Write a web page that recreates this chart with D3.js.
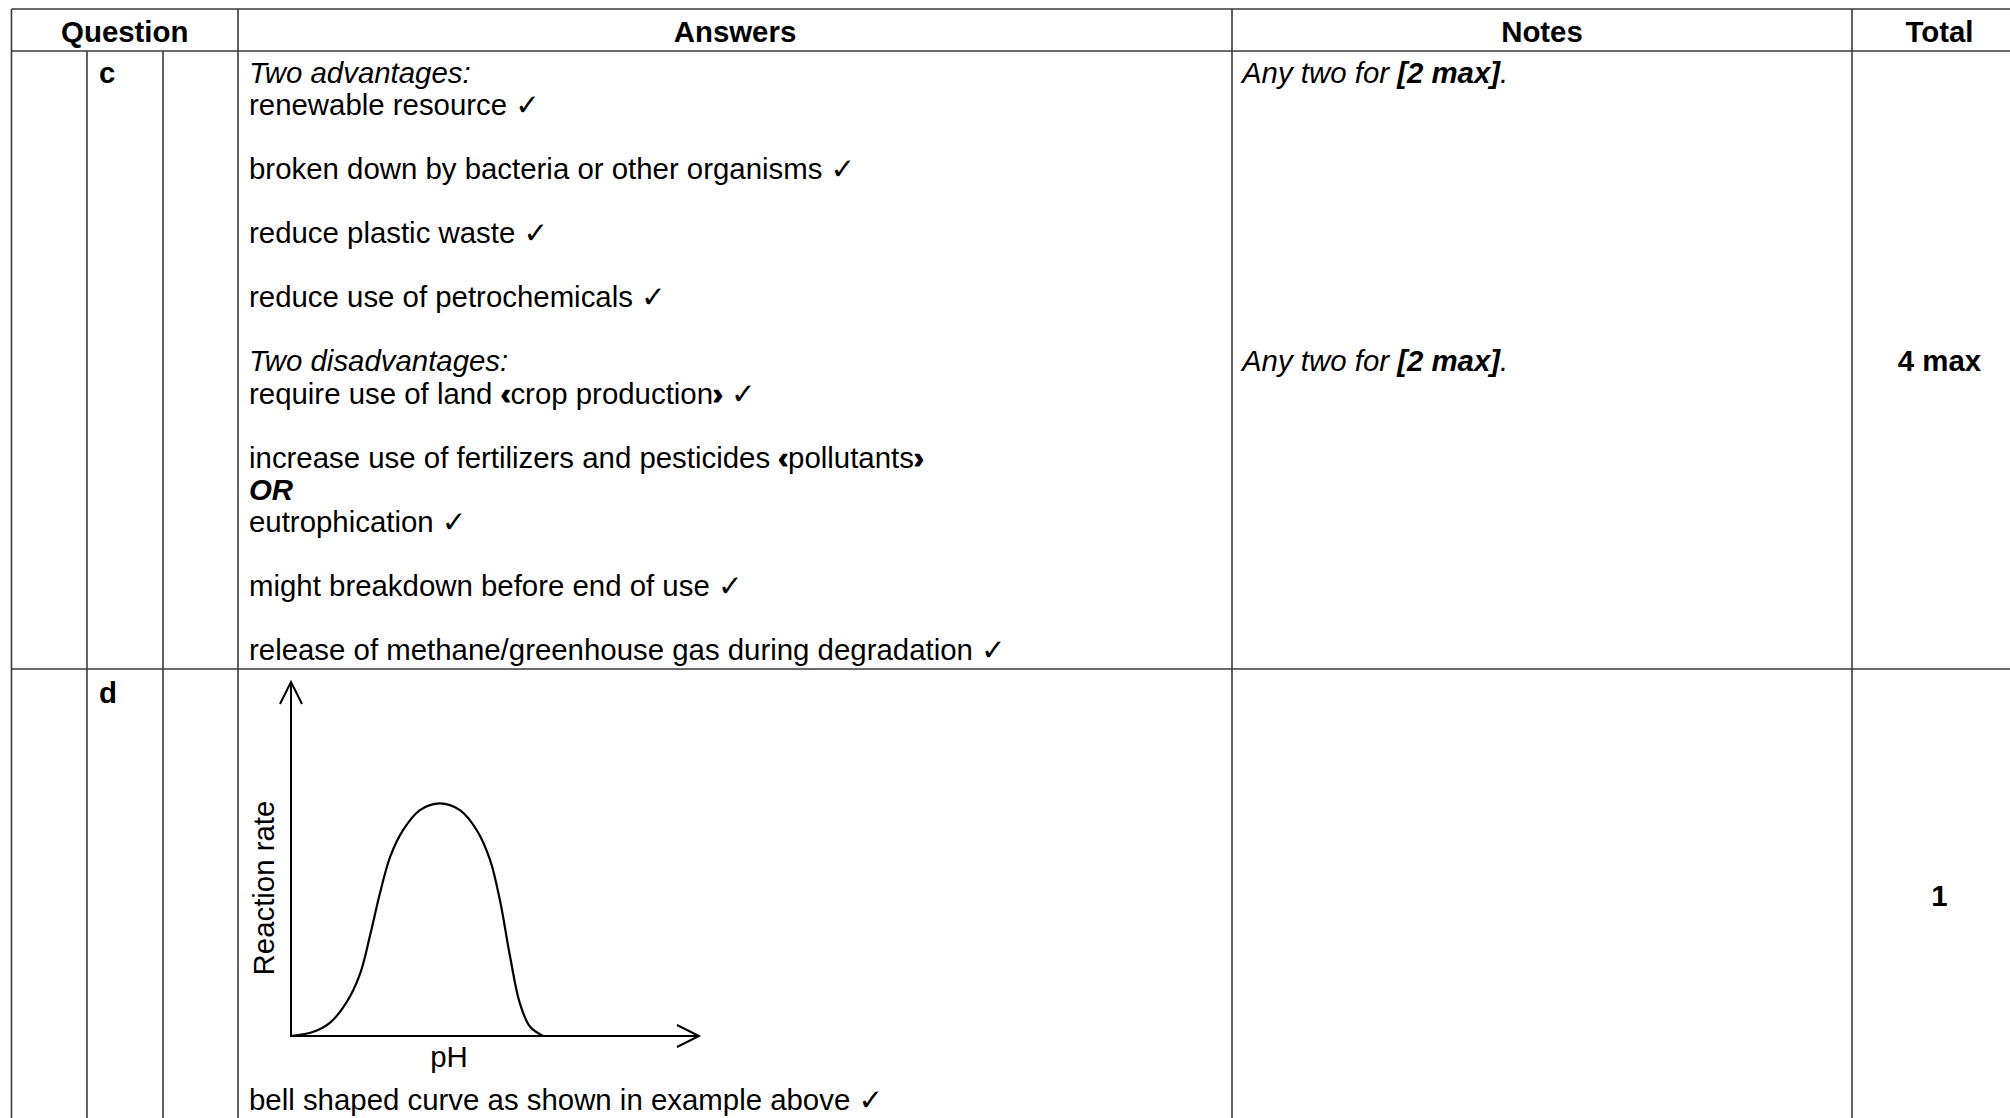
<!DOCTYPE html>
<html>
<head>
<meta charset="utf-8">
<script src="https://cdn.jsdelivr.net/npm/d3@7"></script>
<style>
  body { margin: 0; background: #fff; }
  svg text { font-family: "Liberation Sans", Arial, "DejaVu Sans", sans-serif; fill: #000; }
</style>
</head>
<body>
<script>
// table content
var headers = ["Question", "Answers", "Notes", "Total"];
var partLabels = ["c", "d"];
var answersC = [
  [{t: "Two advantages:", s: "i"}],
  [{t: "renewable resource "}, {t: "✓", s: "b"}],
  [],
  [{t: "broken down by bacteria or other organisms "}, {t: "✓", s: "b"}],
  [],
  [{t: "reduce plastic waste "}, {t: "✓", s: "b"}],
  [],
  [{t: "reduce use of petrochemicals "}, {t: "✓", s: "b"}],
  [],
  [{t: "Two disadvantages:", s: "i"}],
  [{t: "require use of land "}, {t: "‹", s: "k"}, {t: "crop production"}, {t: "›", s: "k"}, {t: " "}, {t: "✓", s: "b"}],
  [],
  [{t: "increase use of fertilizers and pesticides "}, {t: "‹", s: "k"}, {t: "pollutants"}, {t: "›", s: "k"}],
  [{t: "OR", s: "bi"}],
  [{t: "eutrophication "}, {t: "✓", s: "b"}],
  [],
  [{t: "might breakdown before end of use "}, {t: "✓", s: "b"}],
  [],
  [{t: "release of methane/greenhouse gas during degradation "}, {t: "✓", s: "b"}]
];
var notesC = {0: [{t: "Any two for ", s: "i"}, {t: "[2 max]", s: "bi"}, {t: ".", s: "i"}],
              9: [{t: "Any two for ", s: "i"}, {t: "[2 max]", s: "bi"}, {t: ".", s: "i"}]};
var totals = ["4 max", "1"];
var answerD = [{t: "bell shaped curve as shown in example above "}, {t: "✓", s: "b"}];

// sketch curve: pH (0-10 along axis) vs reaction rate (0-10 up axis)
var curvePH   = [0, 0.55, 0.96, 1.36, 1.69, 1.94, 2.18, 2.43, 2.75, 3.16, 3.65, 4.14, 4.55, 4.88, 5.12, 5.37, 5.61, 5.86, 6.18];
var curveRate = [0, 0.12, 0.38, 0.95, 1.75, 2.85, 4.03, 5.06, 5.82, 6.38, 6.57, 6.38, 5.82, 4.97, 3.84, 2.24, 0.92, 0.26, 0];

var W = 2010, H = 1118;
var svg = d3.select("body").append("svg").attr("width", W).attr("height", H);

var fs = 29.4;
var colX = [11.5, 87, 163, 238, 1232, 1852, 2027];
var topY = 9, headY = 51, rowY = 669;
var lineStroke = "#3a3a3a";

// grid lines
var g = svg.append("g").attr("stroke", lineStroke).attr("stroke-width", 1.6);
g.append("line").attr("x1", colX[0]).attr("x2", W).attr("y1", topY).attr("y2", topY);
g.append("line").attr("x1", colX[0]).attr("x2", W).attr("y1", headY).attr("y2", headY);
g.append("line").attr("x1", colX[0]).attr("x2", W).attr("y1", rowY).attr("y2", rowY);
[0, 3, 4, 5, 6].forEach(function(i){
  g.append("line").attr("x1", colX[i]).attr("x2", colX[i]).attr("y1", topY).attr("y2", H);
});
[1, 2].forEach(function(i){
  g.append("line").attr("x1", colX[i]).attr("x2", colX[i]).attr("y1", headY).attr("y2", H);
});

// headers
var headCx = [(colX[0]+colX[3])/2, (colX[3]+colX[4])/2, (colX[4]+colX[5])/2, (colX[5]+colX[6])/2];
svg.selectAll("text.head").data(headers).enter().append("text").attr("class", "head")
  .attr("x", function(d, i){ return headCx[i]; })
  .attr("y", 41.5)
  .attr("text-anchor", "middle")
  .attr("font-weight", "bold")
  .attr("font-size", fs)
  .text(function(d){ return d; });

var pitch = 32.05, firstBase = 83;

// part labels
var partY = [firstBase, 703];
svg.selectAll("text.part").data(partLabels).enter().append("text").attr("class", "part")
  .attr("x", 99).attr("y", function(d, i){ return partY[i]; })
  .attr("font-weight", "bold").attr("font-size", fs)
  .text(function(d){ return d; });

function writeLine(x, y, segs){
  var t = svg.append("text").attr("x", x).attr("y", y).attr("font-size", fs).attr("xml:space", "preserve");
  segs.forEach(function(s){
    var sp = t.append("tspan").text(s.t);
    if (s.s && s.s.indexOf("i") >= 0) sp.attr("font-style", "italic");
    if (s.s && s.s.indexOf("b") >= 0) sp.attr("font-weight", "bold");
    // heavier bracket glyphs
    if (s.s === "k") sp.attr("font-weight", "bold").attr("stroke", "#000").attr("stroke-width", 1.2);
  });
  return t;
}

answersC.forEach(function(segs, i){
  if (segs.length) writeLine(249, firstBase + i*pitch, segs);
});
Object.keys(notesC).forEach(function(k){
  writeLine(1242, firstBase + (+k)*pitch, notesC[k]);
});

// totals
var totalY = [firstBase + 9*pitch, 906];
svg.selectAll("text.total").data(totals).enter().append("text").attr("class", "total")
  .attr("x", headCx[3]).attr("y", function(d, i){ return totalY[i]; })
  .attr("text-anchor", "middle").attr("font-weight", "bold").attr("font-size", fs)
  .text(function(d){ return d; });

// sketch graph
var ox = 291, oy = 1036;
var x = d3.scaleLinear().domain([0, 10]).range([ox, 699]);
var y = d3.scaleLinear().domain([0, 10]).range([oy, 682]);

var axes = svg.append("g").attr("stroke", "#000").attr("stroke-width", 2).attr("fill", "none");
axes.append("path").attr("d", d3.line()([[x(0), y(10)], [x(0), y(0)], [x(10), y(0)]]));
axes.append("path").attr("d", d3.line()([[x(0) - 11, y(10) + 22], [x(0), y(10)], [x(0) + 11, y(10) + 22]]));
axes.append("path").attr("d", d3.line()([[x(10) - 22, y(0) - 11], [x(10), y(0)], [x(10) - 22, y(0) + 11]]));

var pts = curvePH.map(function(d, i){ return [x(d), y(curveRate[i])]; });
svg.append("path").attr("d", d3.line().curve(d3.curveCatmullRom.alpha(0.5))(pts))
  .attr("fill", "none").attr("stroke", "#000").attr("stroke-width", 2.2);

svg.append("text").attr("transform", "translate(274," + y(4.18) + ") rotate(-90)")
  .attr("text-anchor", "middle").attr("font-size", fs).text("Reaction rate");
svg.append("text").attr("x", 449).attr("y", 1067)
  .attr("text-anchor", "middle").attr("font-size", fs).text("pH");

writeLine(249, 1110, answerD);
</script>
</body>
</html>
